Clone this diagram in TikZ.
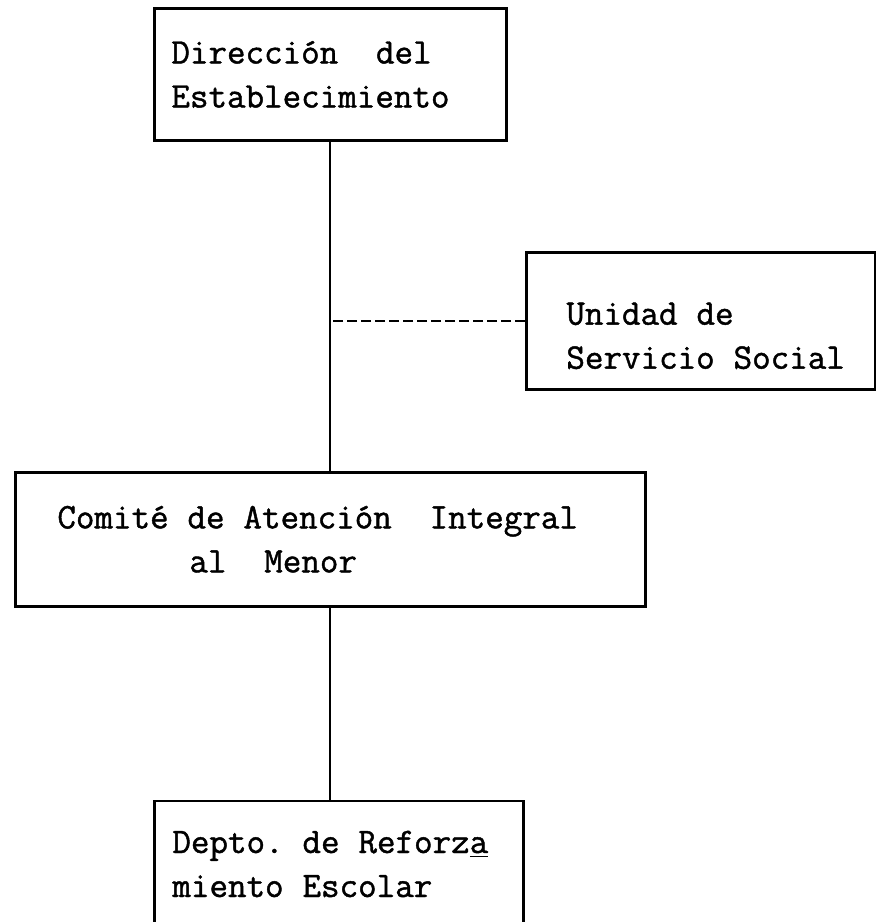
\documentclass[tikz,border=0pt]{standalone}
\usepackage{fontspec}
\newfontfamily\maquina{Latin Modern Mono}[FakeBold=1.2, WordSpace={1,0,0}]
\newcommand\letramaquina{\maquina\fontsize{18}{22}\selectfont}
% un espacio de maquina de escribir
\newcommand\esp{\hspace*{0.525em}}
\usepackage{tikz}
\usetikzlibrary{positioning}

\begin{document}
\begin{tikzpicture}[x=1pt, y=1pt, font=\letramaquina,
  caja/.style={draw, line width=1.4pt, align=left, inner ysep=4pt},
  linea/.style={line width=1pt}]

\useasboundingbox (0,0) rectangle (437.5,-461);

\node[caja, anchor=north west, inner xsep=8.5pt, text width=159pt, minimum height=66pt] (dir) at (76.5,-3.5) {Dirección\esp\esp del\\Establecimiento};

\node[caja, anchor=north west, inner xsep=4pt, text width=166.5pt, minimum height=68.5pt] (unidad) at (262.5,-125.5) {\rule{0pt}{26pt}\hspace*{16pt}Unidad\esp de\\\hspace*{16pt}Servicio\esp Social};

\node[caja, inner xsep=21pt, text width=273pt, minimum height=67pt, below=164.5pt of dir] (comite) {Comité\esp de\esp Atención\esp\esp Integral\\\hspace*{66pt}al\esp\esp Menor};

\node[caja, inner xsep=9pt, text width=166.5pt, minimum height=63pt, below=96pt of comite, xshift=4.25pt] (depto) {Depto.\esp de\esp Reforz\underline{a}\\miento\esp Escolar};

\draw[linea] (dir.south) -- (comite.north);
\draw[linea] (comite.south) -- (comite.south |- depto.north);
\draw[linea, line width=1.4pt, dash pattern=on 5pt off 2pt] (unidad.west) -- (unidad.west -| dir.south);

\end{tikzpicture}
\end{document}
